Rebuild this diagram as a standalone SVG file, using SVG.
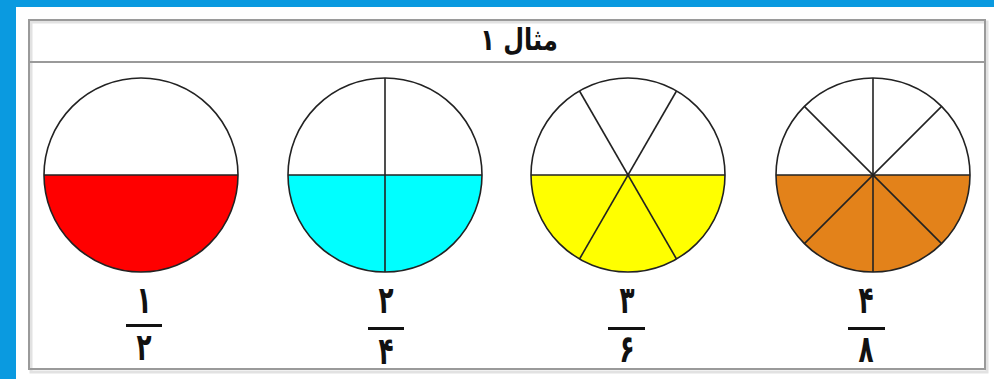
<svg xmlns="http://www.w3.org/2000/svg" width="994" height="379" viewBox="0 0 994 379">
<style>
.frame{fill:none;stroke:#9a9a9a;stroke-width:2}
.shadow{fill:none;stroke:#e2e2e2;stroke-width:3}
.ring{fill:none;stroke:#222;stroke-width:1.6}
.spoke{stroke:#222;stroke-width:1.6}
.digit{font-family:"DejaVu Sans",sans-serif;font-weight:bold;font-size:38px;fill:#111;text-anchor:middle}
.bar{fill:#111}
.title{font-family:"DejaVu Sans",sans-serif;font-weight:bold;font-size:30px;fill:#111;text-anchor:middle}
</style>
<rect x="0" y="0" width="994" height="379" fill="#ffffff"/>
<rect x="0" y="0" width="994" height="7" fill="#0a9ae0"/>
<rect x="0" y="0" width="16" height="379" fill="#0a9ae0"/>
<g id="frame">
<rect x="31" y="22" width="956" height="350" class="shadow"/>
<rect x="29" y="20" width="956" height="349" class="frame"/>
<line x1="29" y1="62" x2="985" y2="62" class="frame"/>
<text class="title" transform="translate(519,50) scale(0.8,1)">مثال ۱</text>
</g>
<g id="half">
<path d="M44,175 A97,97 0 0 0 238,175 Z" fill="#ff0000"/>
<line x1="44" y1="175" x2="238" y2="175" class="spoke"/>
<circle cx="141" cy="175" r="97" class="ring"/>
<text class="digit" transform="translate(144,313) scale(0.65,1)">۱</text>
<rect x="126" y="324" width="36" height="3" class="bar"/>
<text class="digit" transform="translate(144,360) scale(0.65,1)">۲</text>
</g>
<g id="quarters">
<path d="M288,175 A97,97 0 0 0 482,175 Z" fill="#00ffff"/>
<line x1="288" y1="175" x2="482" y2="175" class="spoke"/>
<line x1="385" y1="78" x2="385" y2="272" class="spoke"/>
<circle cx="385" cy="175" r="97" class="ring"/>
<text class="digit" transform="translate(386,313) scale(0.65,1)">۲</text>
<rect x="368" y="327" width="36" height="3" class="bar"/>
<text class="digit" transform="translate(386,364) scale(0.65,1)">۴</text>
</g>
<g id="sixths">
<path d="M531,175 A97,97 0 0 0 725,175 Z" fill="#ffff00"/>
<line x1="531" y1="175" x2="725" y2="175" class="spoke"/>
<line x1="579.5" y1="91" x2="676.5" y2="259" class="spoke"/>
<line x1="676.5" y1="91" x2="579.5" y2="259" class="spoke"/>
<circle cx="628" cy="175" r="97" class="ring"/>
<text class="digit" transform="translate(627,313) scale(0.65,1)">۳</text>
<rect x="608" y="327" width="37" height="3" class="bar"/>
<text class="digit" transform="translate(627,362) scale(0.65,1)">۶</text>
</g>
<g id="eighths">
<path d="M776,175 A97,97 0 0 0 970,175 Z" fill="#e3821a"/>
<line x1="776" y1="175" x2="970" y2="175" class="spoke"/>
<line x1="873" y1="78" x2="873" y2="272" class="spoke"/>
<line x1="804.4" y1="106.4" x2="941.6" y2="243.6" class="spoke"/>
<line x1="941.6" y1="106.4" x2="804.4" y2="243.6" class="spoke"/>
<circle cx="873" cy="175" r="97" class="ring"/>
<text class="digit" transform="translate(866,313) scale(0.65,1)">۴</text>
<rect x="848" y="327" width="37" height="3" class="bar"/>
<text class="digit" transform="translate(866,362) scale(0.65,1)">۸</text>
</g>
</svg>
